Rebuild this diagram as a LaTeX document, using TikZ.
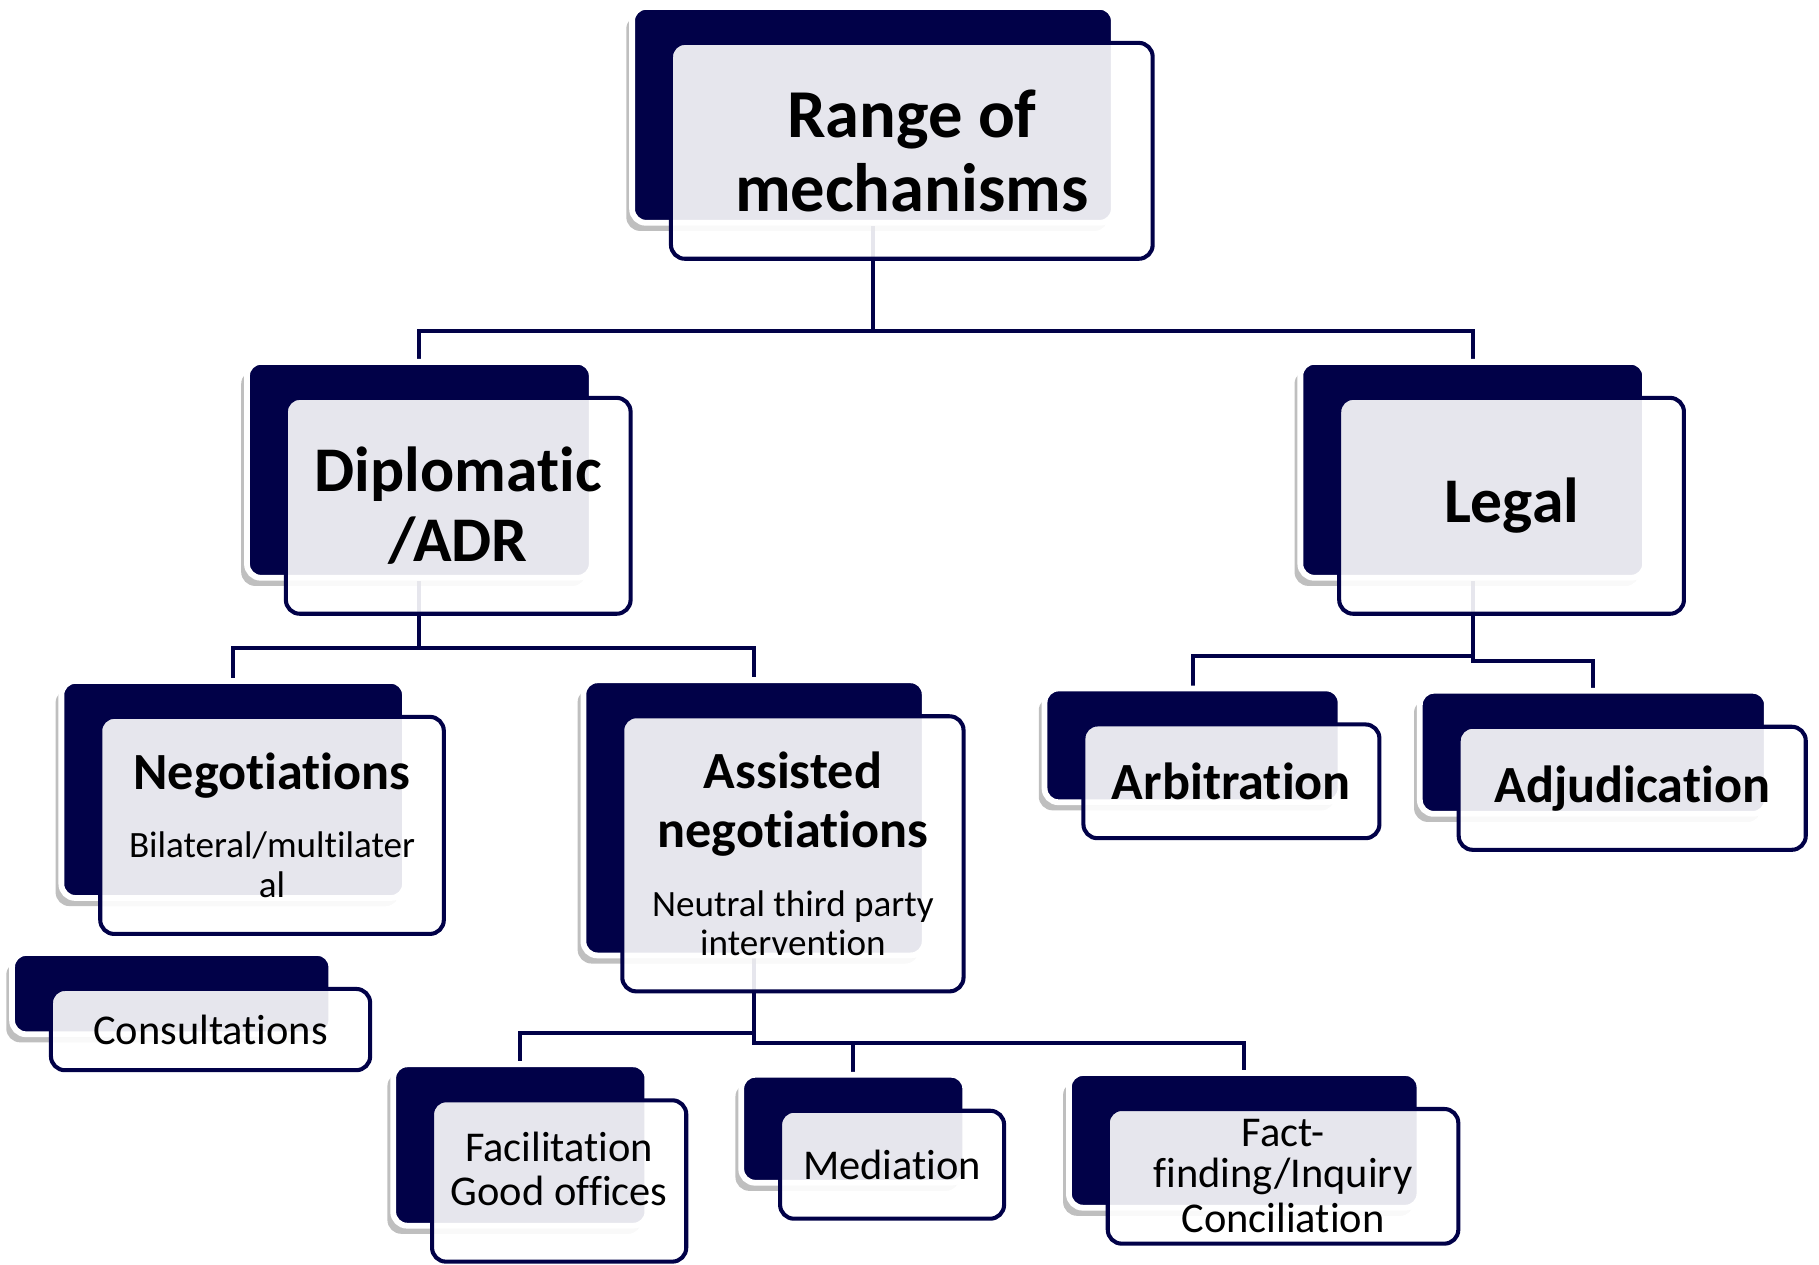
\documentclass[tikz,border=0pt]{standalone}
\usepackage{fontspec}
\setmainfont{Carlito}[Ligatures={NoCommon,NoContextual},Contextuals=NoAlternate]
\usepackage{tikz}
\usetikzlibrary{shadows}
\usetikzlibrary{backgrounds}
\usetikzlibrary{positioning}

\definecolor{navy}{RGB}{1,1,72}
\newcommand{\mechhead}{\bfseries\fontsize{12.8}{14.5}\selectfont}

\begin{document}
\begin{tikzpicture}[x=0.01cm,y=-0.01cm,
	back node/.style={rectangle,rounded corners=0.12cm,fill=navy,draw=white,line width=0.05cm,
		drop shadow={shadow xshift=-0.05cm,shadow yshift=-0.07cm,opacity=0.25,fill=black}},
	front node/.style={rectangle,rounded corners=0.12cm,draw=navy,line width=0.035cm,
		fill=white,fill opacity=0.9,text opacity=1,align=center,inner sep=0pt,shift={(33.5,31)}},
	box size/.style 2 args={minimum width=#1cm,minimum height=#2cm},
	link/.style={draw=navy,line width=0.035cm},
	top text/.style={font=\bfseries\fontsize{16.8}{18.2}\selectfont},
	mid text/.style={font=\bfseries\fontsize{15.6}{17.1}\selectfont},
	head text/.style={font=\mechhead},
	low text/.style={font=\fontsize{9.1}{9.7}\selectfont},
	leaf text/.style={font=\fontsize{10.4}{10.8}\selectfont}]

	\useasboundingbox (0,0) rectangle (1568,1090);

	% top
	\node[back node,box size={4.15}{1.86}] (rootback) at (752.5,99) {};
	\node[front node,box size={4.15}{1.86},top text] (root) at (rootback.center) {Range of\\mechanisms};

	% second row
	\node[back node,box size={2.97}{1.86}] (diplback) at (361.5,405) {};
	\node[front node,box size={2.97}{1.86},mid text] (dipl) at (diplback.center) {Diplomatic\\/ADR};
	\node[back node,box size={2.97}{1.86}] (legalback) at (1269.5,405) {};
	\node[front node,box size={2.97}{1.86},mid text] (legal) at (legalback.center) {Legal};

	% third row
	\node[back node,box size={2.96}{1.87}] (negoback) at (201,680.5) {};
	\node[front node,box size={2.96}{1.87},low text] (nego) at (negoback.center)
		{{\mechhead Negotiations}\\[7pt]Bilateral/multilater\\al};
	\node[back node,box size={2.94}{2.37}] (asstback) at (650,705) {};
	\node[front node,box size={2.94}{2.37},low text] (asst) at (asstback.center)
		{{\mechhead Assisted}\\[4.8pt]{\mechhead negotiations}\\[7.2pt]Neutral third party\\intervention};
	\node[back node,box size={2.55}{0.98}] (arbiback) at (1028,642.5) {};
	\node[front node,box size={2.55}{0.98},head text] (arbi) at (arbiback.center) {Arbitration};
	\node[back node,box size={2.99}{1.06}] (adjuback) at (1373.5,648.5) {};
	\node[front node,box size={2.99}{1.06},head text] (adju) at (adjuback.center) {Adjudication};
	\node[back node,box size={2.75}{0.70}] (consback) at (148,856.5) {};
	\node[front node,box size={2.75}{0.70},leaf text] (cons) at (consback.center) {Consultations};

	% bottom row
	\node[back node,box size={2.19}{1.39}] (faciback) at (448.5,987) {};
	\node[front node,box size={2.19}{1.39},leaf text] (faci) at (faciback.center) {Facilitation\\Good offices\\[-4.6pt]\mbox{}};
	\node[back node,box size={1.93}{0.93}] (mediback) at (735.5,973) {};
	\node[front node,box size={1.93}{0.93},leaf text] (medi) at (mediback.center) {Mediation};
	\node[back node,box size={3.02}{1.16}] (factback) at (1072.5,983) {};
	\node[front node,box size={3.02}{1.16},leaf text] (fact) at (factback.center) {Fact-\\[-0.8pt]finding/Inquiry\\[0.3pt]Conciliation};

	% connectors
	\begin{scope}[on background layer]
	\draw[link]
	(rootback.south) -- ++(0,91) -| (diplback.north)
	(rootback.south) -- ++(0,91) -| (legalback.north)
	(diplback.south) -- ++(0,58) -| (negoback.north)
	(diplback.south) -- ++(0,58) -| (asstback.north)
	(legalback.south) -- ++(0,65) -| (arbiback.north)
	(legalback.south) -- ++(0,69) -| (adjuback.north)
	(asstback.south) -- ++(0,64) -| (faciback.north)
	(asstback.south) -- ++(0,73) -| (mediback.north)
	(asstback.south) -- ++(0,73) -| (factback.north);
	\end{scope}
\end{tikzpicture}
\end{document}
